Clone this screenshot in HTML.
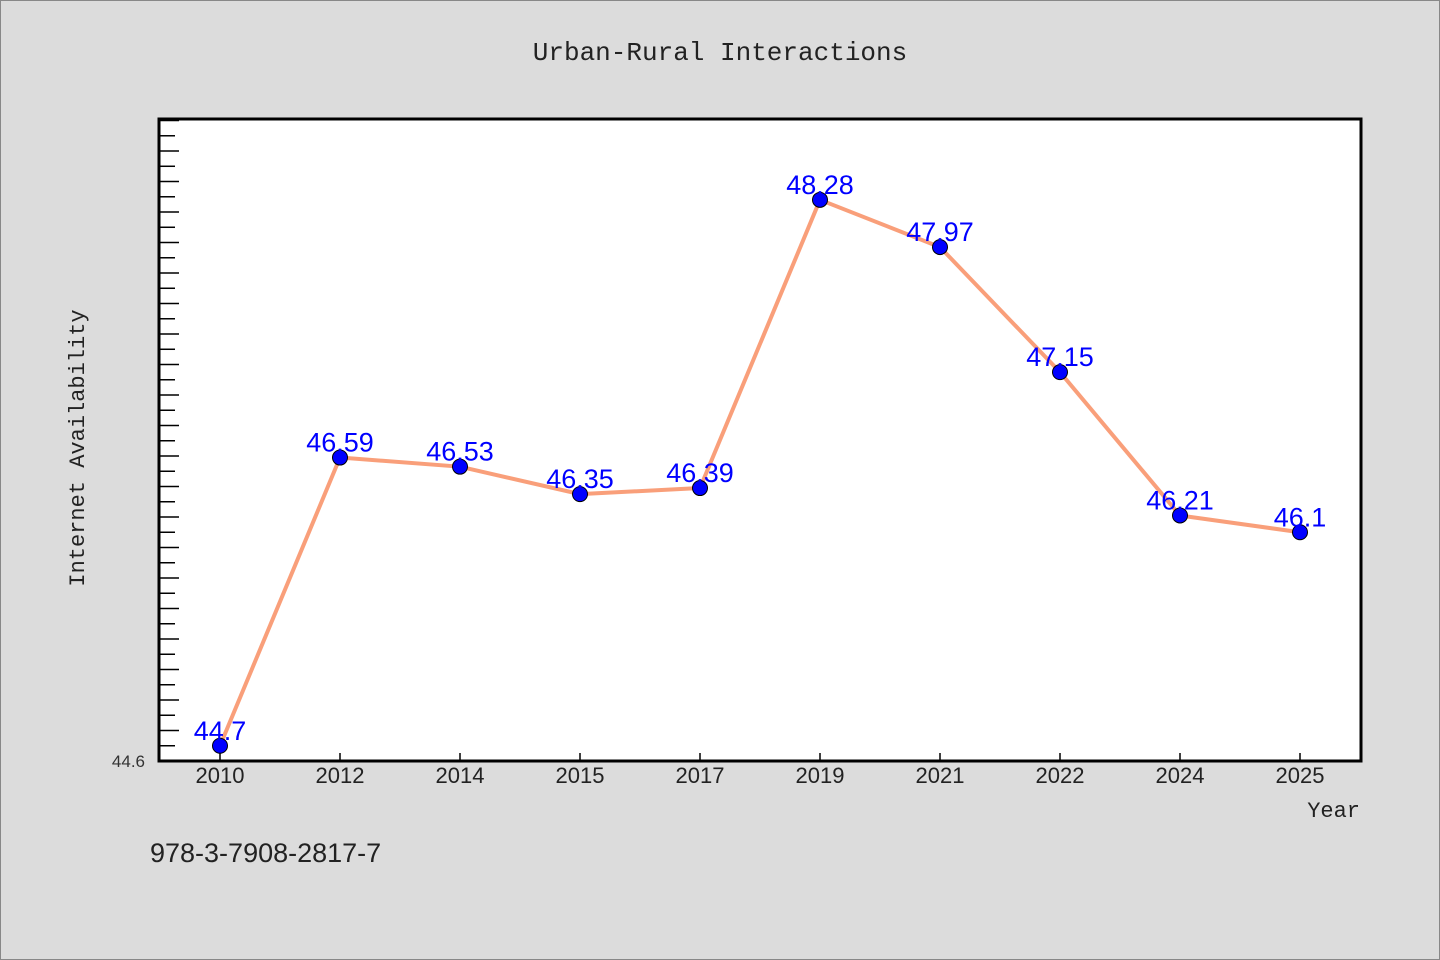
<!DOCTYPE html>
<html><head><meta charset="utf-8"><style>
html,body{margin:0;padding:0;background:#dcdcdc;}
svg{display:block;}
</style></head><body>
<svg id="chart" width="1440" height="960" xmlns="http://www.w3.org/2000/svg">
<rect x="0.5" y="0.5" width="1439" height="959" fill="#dcdcdc" stroke="#888"/>
<text x="720" y="60" text-anchor="middle" font-family="'Liberation Mono', monospace" font-size="26" fill="#222">Urban-Rural Interactions</text>
<rect x="159" y="119" width="1202" height="642" fill="#fff"/>
<g id="yticks"></g>
<g id="xaxis"></g>
<g id="series"></g>
<rect x="159" y="119" width="1202" height="642" fill="none" stroke="#000" stroke-width="3"/>
<text x="145" y="767" text-anchor="end" font-family="'WenQuanYi Zen Hei', sans-serif" font-size="17" fill="#333">44.6</text>
<text transform="translate(84,448) rotate(-90)" text-anchor="middle" font-family="'Liberation Mono', monospace" font-size="22" fill="#222">Internet Availability</text>
<text x="1360" y="817" text-anchor="end" font-family="'Liberation Mono', monospace" font-size="22" fill="#222">Year</text>
<text x="150" y="862" font-family="'WenQuanYi Zen Hei', 'Liberation Sans', sans-serif" font-size="27" fill="#222">978-3-7908-2817-7</text>
</svg>
<script>
const categories = ["2010","2012","2014","2015","2017","2019","2021","2022","2024","2025"];
const values = [44.7,46.59,46.53,46.35,46.39,48.28,47.97,47.15,46.21,46.1];
const labels = ["44.7","46.59","46.53","46.35","46.39","48.28","47.97","47.15","46.21","46.1"];
const yMin = 44.6, yMax = 48.81;
const NS = "http://www.w3.org/2000/svg";
const L = 159, R = 1361, T = 119, B = 761;
function xs(i){ return 220 + i * 120; }
function ys(v){ return B - (v - yMin) / (yMax - yMin) * (B - T); }
function mk(tag, attrs, parent){ const e = document.createElementNS(NS, tag); for (const k in attrs) e.setAttribute(k, attrs[k]); parent.appendChild(e); return e; }
const yt = document.getElementById('yticks');
for (let k = 1; yMin + k * 0.1 < yMax; k++) {
  const y = ys(yMin + k * 0.1);
  const t = mk('line', {x1: L, x2: L + (k % 2 === 0 ? 20 : 16), y1: y, y2: y, stroke: '#000', 'stroke-width': 1.5}, yt);
  
  
}
const xa = document.getElementById('xaxis');
categories.forEach((c, i) => {
  const t = mk('line', {x1: xs(i), x2: xs(i), y1: B - 8, y2: B, stroke: '#000', 'stroke-width': 1.5}, xa);
  
  
  const tx = mk('text', {x: xs(i), y: 783, 'text-anchor': 'middle', 'font-family': "'WenQuanYi Zen Hei', 'Liberation Sans', sans-serif", 'font-size': 22, fill: '#222'}, xa);
  tx.textContent = c;
  
  
});
const s = document.getElementById('series');
const pl = mk('polyline', {points: values.map((v, i) => xs(i) + ',' + ys(v)).join(' '), fill: 'none', stroke: '#f99f7a', 'stroke-width': 4, 'stroke-linejoin': 'round'}, s);


values.forEach((v, i) => {
  const c = mk('circle', {cx: xs(i), cy: ys(v), r: 7.5, fill: '#0000ff', stroke: '#000', 'stroke-width': 1}, s);
  
  
});
values.forEach((v, i) => {
  const t = mk('text', {x: xs(i), y: ys(v) - 6, 'text-anchor': 'middle', 'font-family': "'WenQuanYi Zen Hei', 'Liberation Sans', sans-serif", 'font-size': 27, fill: '#0000ff'}, s);
  t.textContent = labels[i];
  
  
});
</script>
</body></html>
